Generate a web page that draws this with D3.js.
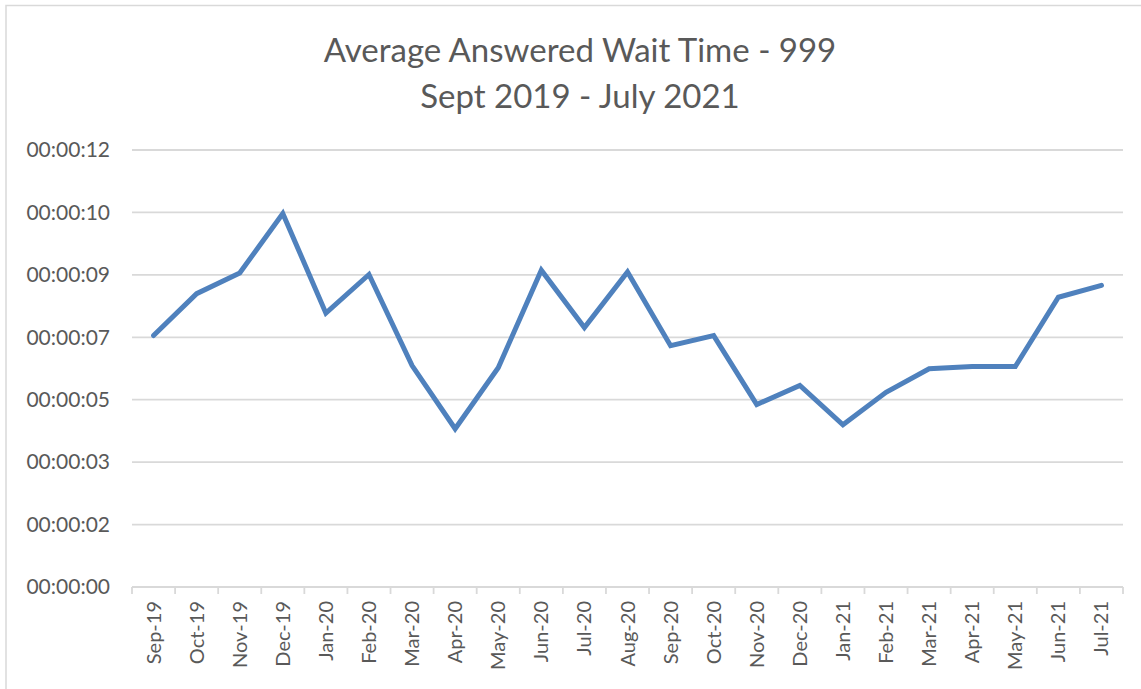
<!DOCTYPE html>
<html>
<head>
<meta charset="utf-8">
<script src="https://cdn.jsdelivr.net/npm/d3@7"></script>
<style>
  body { margin: 0; background: #fff; }
  text { font-family: Lato, "Open Sans", sans-serif; fill: #595959; }
</style>
</head>
<body>
<div id="chart"></div>
<script>
// months on the category axis
var months = ["Sep-19", "Oct-19", "Nov-19", "Dec-19", "Jan-20", "Feb-20", "Mar-20", "Apr-20",
    "May-20", "Jun-20", "Jul-20", "Aug-20", "Sep-20", "Oct-20", "Nov-20", "Dec-20",
    "Jan-21", "Feb-21", "Mar-21", "Apr-21", "May-21", "Jun-21", "Jul-21"];

// average answered wait time, seconds
var waitSeconds = [6.96, 8.12, 8.69, 10.34, 7.58, 8.65, 6.13, 4.38,
    6.07, 8.77, 7.18, 8.72, 6.68, 6.96, 5.05, 5.58,
    4.49, 5.39, 6.04, 6.10, 6.10, 8.02, 8.35];

// excel time axis steps of 0.00002 day (in seconds)
var yTicks = [0, 1.728, 3.456, 5.184, 6.912, 8.64, 10.368, 12.096];

var titleLines = ["Average Answered Wait Time - 999", "Sept 2019 - July 2021"];

function buildChart(containerId) {
var width = 1141;
var height = 689;

var margin = { top: 150, right: 18, bottom: 102, left: 132 };
var innerWidth = width - margin.left - margin.right;
var innerHeight = height - margin.top - margin.bottom;

var svg = d3.select(containerId)
    .append('svg')
    .attr('width', width)
    .attr('height', height);

// chart border (only top/left visible in the crop)
svg.append('path')
    .attr('d', 'M6,' + height + 'V5.5H' + width)
    .attr('fill', 'none')
    .attr('stroke', '#d9d9d9')
    .attr('stroke-width', 1.5);

// title
svg.selectAll('.title')
    .data(titleLines)
    .enter()
    .append('text')
    .attr('class', 'title')
    .attr('x', 580)
    .attr('y', function(d, i) { return 62 + i * 46; })
    .attr('text-anchor', 'middle')
    .style('font-size', '33px')
    .text(function(d) { return d; });

var g = svg.append('g')
    .attr('transform', 'translate(' + margin.left + ',' + margin.top + ')');

var x = d3.scaleBand()
    .domain(months)
    .range([0, innerWidth]);

var y = d3.scaleLinear()
    .domain([0, yTicks[yTicks.length - 1]])
    .range([innerHeight, 0]);

function fmtTime(s) {
    var t = Math.round(s);
    var hh = Math.floor(t / 3600), mm = Math.floor(t / 60) % 60, ss = t % 60;
    return d3.format('02d')(hh) + ':' + d3.format('02d')(mm) + ':' + d3.format('02d')(ss);
}

// gridlines
g.selectAll('.grid')
    .data(yTicks.slice(1))
    .enter()
    .append('line')
    .attr('class', 'grid')
    .attr('x1', 0)
    .attr('x2', innerWidth)
    .attr('y1', function(d) { return y(d); })
    .attr('y2', function(d) { return y(d); })
    .attr('stroke', '#d9d9d9')
    .attr('stroke-width', 1.8);

// y labels
var yAxis = g.append('g')
    .call(d3.axisLeft(y).tickValues(yTicks).tickFormat(fmtTime).tickSize(0).tickPadding(22));
yAxis.select('.domain').remove();
yAxis.selectAll('text')
    .style('font-size', '21px')
    .style('fill', '#595959')
    .style('font-family', 'Lato, sans-serif');

// x axis with excel-style ticks between categories
var xAxis = g.append('g')
    .attr('transform', 'translate(0,' + innerHeight + ')');
xAxis.append('line')
    .attr('x1', 0)
    .attr('x2', innerWidth)
    .attr('stroke', '#d9d9d9')
    .attr('stroke-width', 1.8);
xAxis.selectAll('.tick-mark')
    .data(months.concat(['end']))
    .enter()
    .append('line')
    .attr('class', 'tick-mark')
    .attr('x1', function(d, i) { return i * x.step(); })
    .attr('x2', function(d, i) { return i * x.step(); })
    .attr('y1', 0)
    .attr('y2', 7)
    .attr('stroke', '#d9d9d9')
    .attr('stroke-width', 1.8);
xAxis.selectAll('.xlabel')
    .data(months)
    .enter()
    .append('text')
    .attr('class', 'xlabel')
    .attr('transform', function(d) {
        return 'translate(' + (x(d) + x.bandwidth() / 2 + 7) + ',14) rotate(-90)';
    })
    .attr('text-anchor', 'end')
    .style('font-size', '20px')
    .text(function(d) { return d; });

// the line
var line = d3.line()
    .x(function(d, i) { return x(months[i]) + x.bandwidth() / 2; })
    .y(function(d) { return y(d); });

g.append('path')
    .datum(waitSeconds)
    .attr('d', line)
    .attr('fill', 'none')
    .attr('stroke', '#4f81bd')
    .attr('stroke-width', 5)
    .attr('stroke-linejoin', 'miter')
    .attr('stroke-linecap', 'round');
}

buildChart('#chart');
</script>
</body>
</html>
